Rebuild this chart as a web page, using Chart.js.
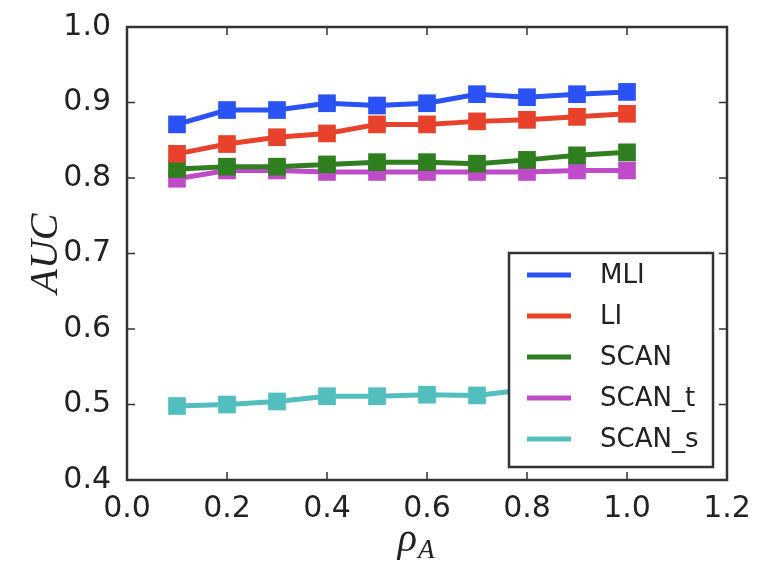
<!DOCTYPE html>
<html>
<head>
<meta charset="utf-8">
<script src="https://cdn.jsdelivr.net/npm/chart.js@4.4.1/dist/chart.umd.min.js"></script>
<style>
  html, body { margin: 0; padding: 0; background: #fff; }
  #wrap { width: 758px; height: 566px; }
</style>
</head>
<body>
<div id="wrap"><canvas id="aucChart" width="758" height="566"></canvas></div>
<script>
/* ================================
   Data
================================ */
const rhoValues = [0.1, 0.2, 0.3, 0.4, 0.5, 0.6, 0.7, 0.8, 0.9, 1.0];

const mliAuc   = [0.871, 0.890, 0.890, 0.899, 0.896, 0.899, 0.911, 0.907, 0.911, 0.914];
const liAuc    = [0.832, 0.845, 0.854, 0.859, 0.871, 0.871, 0.875, 0.877, 0.881, 0.885];
const scanAuc  = [0.812, 0.815, 0.815, 0.818, 0.821, 0.821, 0.819, 0.824, 0.830, 0.834];
const scanTAuc = [0.799, 0.810, 0.810, 0.808, 0.808, 0.808, 0.808, 0.808, 0.810, 0.810];
const scanSAuc = [0.498, 0.500, 0.504, 0.511, 0.511, 0.513, 0.512, 0.520, 0.525, 0.530];

const seriesNames = ["MLI", "LI", "SCAN", "SCAN_t", "SCAN_s"];
const xTickValues = [0.0, 0.2, 0.4, 0.6, 0.8, 1.0, 1.2];
const yTickValues = [0.4, 0.5, 0.6, 0.7, 0.8, 0.9, 1.0];

const COLORS = ["#2a52f5", "#e8422d", "#2f7f20", "#c04bc8", "#52bfbf"];
const TICK_FONT = { family: "'DejaVu Sans', sans-serif", size: 30 };

/* ================================
   Helpers
================================ */
function toPoints(values) {
  return values.map((v, i) => ({ x: rhoValues[i], y: v }));
}

function makeDataset(label, values, color) {
  return {
    label,
    data: toPoints(values),
    borderColor: color,
    backgroundColor: color,
    borderWidth: 5,
    pointStyle: "rect",
    pointRadius: 12.5,
    pointHoverRadius: 12.5,
    pointBorderWidth: 0,
    tension: 0
  };
}

/* ================================
   Frame, inward ticks, axis titles, legend
================================ */
const framePlugin = {
  id: "frame",
  afterDatasetsDraw(chart) {
    const { ctx, chartArea: a, scales } = chart;
    ctx.save();

    // inward tick marks on all four sides
    ctx.strokeStyle = "#333";
    ctx.lineWidth = 1.5;
    const tl = 8;
    xTickValues.forEach(v => {
      const px = scales.x.getPixelForValue(v);
      ctx.beginPath();
      ctx.moveTo(px, a.bottom); ctx.lineTo(px, a.bottom - tl);
      ctx.moveTo(px, a.top); ctx.lineTo(px, a.top + tl);
      ctx.stroke();
    });
    yTickValues.forEach(v => {
      const py = scales.y.getPixelForValue(v);
      ctx.beginPath();
      ctx.moveTo(a.left, py); ctx.lineTo(a.left + tl, py);
      ctx.moveTo(a.right, py); ctx.lineTo(a.right - tl, py);
      ctx.stroke();
    });

    // legend box inside the plot, lower right
    const boxW = 204, boxH = 214;
    const bx = a.right - 14 - boxW;
    const by = a.bottom - 13 - boxH;
    ctx.fillStyle = "#fff";
    ctx.fillRect(bx, by, boxW, boxH);
    ctx.strokeStyle = "#333";
    ctx.lineWidth = 2.5;
    ctx.strokeRect(bx, by, boxW, boxH);

    ctx.font = "26px 'DejaVu Sans', sans-serif";
    ctx.textBaseline = "middle";
    ctx.textAlign = "left";
    chart.data.datasets.forEach((ds, i) => {
      const ry = by + 22 + i * 41;
      ctx.strokeStyle = ds.borderColor;
      ctx.lineWidth = 5;
      ctx.beginPath();
      ctx.moveTo(bx + 18, ry);
      ctx.lineTo(bx + 62, ry);
      ctx.stroke();
      ctx.fillStyle = "#222";
      ctx.fillText(ds.label, bx + 91, ry + 1);
    });

    // plot frame
    ctx.strokeStyle = "#333";
    ctx.lineWidth = 2.5;
    ctx.strokeRect(a.left, a.top, a.right - a.left, a.bottom - a.top);

    // axis titles
    ctx.fillStyle = "#222";
    ctx.font = "italic 40px 'Liberation Serif', 'DejaVu Serif', serif";
    ctx.textAlign = "center";
    ctx.save();
    ctx.translate(46, (a.top + a.bottom) / 2);
    ctx.rotate(-Math.PI / 2);
    ctx.fillText("AUC", 0, 0);
    ctx.restore();

    const cx = (a.left + a.right) / 2 - 10;
    ctx.font = "italic 40px 'Liberation Serif', 'DejaVu Serif', serif";
    ctx.textAlign = "right";
    ctx.fillText("\u03C1", cx, 540);
    ctx.font = "italic 27px 'Liberation Serif', 'DejaVu Serif', serif";
    ctx.textAlign = "left";
    ctx.fillText("A", cx + 1, 551);

    ctx.restore();
  }
};

/* ================================
   Chart
================================ */
const datasets = [mliAuc, liAuc, scanAuc, scanTAuc, scanSAuc]
  .map((vals, i) => makeDataset(seriesNames[i], vals, COLORS[i]));

new Chart(document.getElementById("aucChart"), {
  type: "line",
  data: { datasets },
  options: {
    responsive: false,
    animation: false,
    layout: { padding: { left: 0, top: 27, right: 31, bottom: 0 } },
    plugins: {
      legend: { display: false },
      tooltip: { enabled: false }
    },
    scales: {
      x: {
        type: "linear",
        min: 0,
        max: 1.2,
        grid: { display: false },
        border: { display: false },
        afterBuildTicks: s => { s.ticks = xTickValues.map(v => ({ value: v })); },
        afterFit: s => { s.height = 86; },
        ticks: {
          color: "#222",
          font: TICK_FONT,
          padding: 3,
          maxRotation: 0,
          autoSkip: false,
          callback: v => Number(v).toFixed(1)
        }
      },
      y: {
        min: 0.4,
        max: 1.0,
        grid: { display: false },
        border: { display: false },
        afterBuildTicks: s => { s.ticks = yTickValues.map(v => ({ value: v })); },
        afterFit: s => { s.width = 127; },
        ticks: {
          color: "#222",
          font: TICK_FONT,
          padding: 8,
          callback: v => Number(v).toFixed(1)
        }
      }
    }
  },
  plugins: [framePlugin]
});
</script>
</body>
</html>
